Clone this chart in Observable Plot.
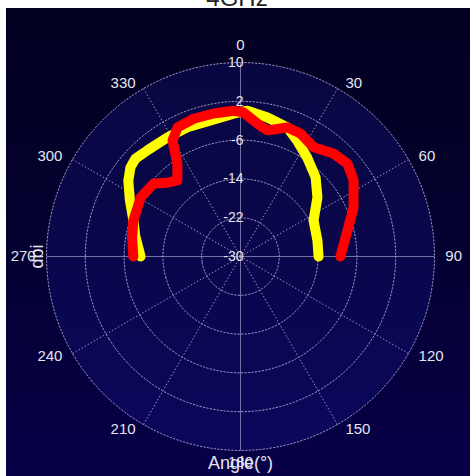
<!DOCTYPE html>
<html><head><meta charset="utf-8">
<script src="https://cdn.jsdelivr.net/npm/d3@7"></script>
<script src="https://cdn.jsdelivr.net/npm/@observablehq/plot@0.6"></script>
<style>
body{margin:0;background:#fff;}
#wrap{position:relative;width:470px;height:476px;overflow:hidden;background:#fff;font-family:"Liberation Sans",Arial,sans-serif;}
#title{position:absolute;left:0;width:474px;text-align:center;top:-14px;font-size:24px;line-height:24px;color:#222;}
#chart{position:absolute;left:6px;top:8px;}
</style></head><body>
<div id="wrap"><div id="title">4GHz</div><div id="chart"></div></div>
<script>
const angleTicks = [0, 30, 60, 90, 120, 150, 180, 210, 240, 270, 300, 330];
const ringValues = [-30, -22, -14, -6, 2, 10];
const yellowAngles = [270, 281, 288.6, 297, 304, 309, 313, 319, 328.5, 337.7, 347.6, 357.2, 2.7, 11, 20, 26, 34, 43.5, 52.5, 63.7, 78.3, 90];
const yellowGain   = [-9.4, -7.9, -6.7, -4.4, -2.1, -0.8, -0.4, -0.9, -1.2, -1.2, -1.3, -0.5, 0.1, -0.8, -1.7, -3.4, -5.4, -7.5, -10, -13.2, -13.8, -13.9];
const redAngles = [270, 280, 288.6, 300.5, 310, 315, 320.3, 325.9, 329.6, 334, 341.2, 349.3, 357.3, 1.2, 7.3, 12.1, 20, 26, 33.8, 42.1, 49, 56.1, 66.6, 76.3, 90];
const redGain   = [-7.9, -7.3, -6.7, -6.1, -6.6, -8.5, -9.6, -6.8, -2.3, -0.4, 0.0, 0.0, 0.1, -0.3, -2.4, -3.4, -1.7, -1.8, -2.9, -1.4, -0.8, -1.9, -4.6, -7.3, -9.4];

// polar helpers: angle (clockwise from top) -> longitude, gain (dBi) -> latitude
const lon = a => { let l = 180 - a; if (l > 180) l -= 360; if (l <= -180) l += 360; return l; };
const lat = v => 60 - v; // -30 at the pole (center), 10 at the outer ring
const labelGain = 11.2; // angle labels sit just outside the outer ring

const yellow = yellowAngles.map((a, i) => ({angle: a, gain: yellowGain[i]}));
const red = redAngles.map((a, i) => ({angle: a, gain: redGain[i]}));
const rings = ringValues.filter(v => v > -30);
const gridColor = "#b8b8e0";
const textColor = "#e4e4ee";
const sideAnchor = a => (a % 180 === 0 ? "middle" : a < 180 ? "start" : "end");

const labelMarks = [
  ["start", a => a > 0 && a < 180, 5, 0],
  ["end", a => a > 180, -5, 0],
  ["middle", a => a === 0, 0, -11],
  ["middle", a => a === 180, 0, 6]
].map(([anchor, test, dx, dy]) =>
  Plot.text(angleTicks.filter(test), {x: a => lon(a), y: lat(labelGain), text: a => String(a), textAnchor: anchor, dx, dy, fill: textColor, fontSize: 15})
);

const chart = Plot.plot({
  width: 464,
  height: 468,
  marginLeft: 40,
  marginRight: 36,
  marginTop: 54,
  marginBottom: 26,
  style: {background: "linear-gradient(to bottom, #020020 0%, #04002e 45%, #070048 100%)", fontFamily: "'Liberation Sans', Arial, sans-serif", overflow: "visible"},
  projection: {
    type: "azimuthal-equidistant",
    rotate: [0, -90],
    domain: d3.geoCircle().center([0, 90]).radius(40)(),
    clip: false
  },
  marks: [
    Plot.geo([10], {geometry: v => d3.geoCircle().center([0, 90]).radius(v + 30)(), fill: "#1c1ca0", fillOpacity: 0.25, stroke: "none"}),
    Plot.geo(rings, {geometry: v => d3.geoCircle().center([0, 90]).radius(v + 30)(), stroke: gridColor, strokeOpacity: 0.8, strokeWidth: 1, strokeDasharray: "1.5,2", fill: "none"}),
    Plot.link(angleTicks.filter(a => a % 90 !== 0), {x1: a => lon(a), y1: lat(-30), x2: a => lon(a), y2: lat(10), stroke: gridColor, strokeOpacity: 0.8, strokeDasharray: "1.5,2"}),
    Plot.link(angleTicks.filter(a => a % 90 === 0), {x1: a => lon(a), y1: lat(-30), x2: a => lon(a), y2: lat(10), stroke: gridColor, strokeOpacity: 0.6}),
    Plot.line(yellow, {x: d => lon(d.angle), y: d => lat(d.gain), stroke: "#ffff00", strokeWidth: 10, strokeLinecap: "round", strokeLinejoin: "round"}),
    Plot.line(red, {x: d => lon(d.angle), y: d => lat(d.gain), stroke: "#ff0000", strokeWidth: 10, strokeLinecap: "round", strokeLinejoin: "round"}),
    Plot.text(ringValues, {x: lon(0), y: v => lat(v), text: v => String(v), textAnchor: "end", dx: 3, fill: textColor, fontSize: 14}),
    ...labelMarks,
    Plot.text(["Angle(°)"], {frameAnchor: "bottom", textAnchor: "middle", dy: 18, text: d => d, fill: textColor, fontSize: 18}),
    Plot.text(["dbi"], {frameAnchor: "left", textAnchor: "middle", lineAnchor: "middle", dx: -9, rotate: -90, text: d => d, fill: textColor, fontSize: 18})
  ]
});
document.getElementById("chart").appendChild(chart);
</script>
</body></html>
